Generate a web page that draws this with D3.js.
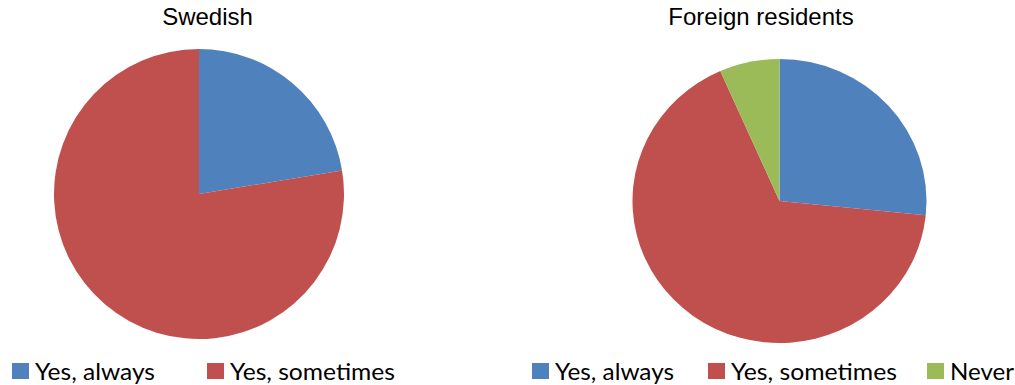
<!DOCTYPE html>
<html>
<head>
<meta charset="utf-8">
<script src="https://cdn.jsdelivr.net/npm/d3@7"></script>
<style>
  html, body { margin: 0; padding: 0; background: #fff; }
  svg { display: block; }
</style>
</head>
<body>
<svg id="chart" width="1015" height="385"></svg>
<script>
// Survey answers, shares in percent
const swedishCategories = ["Yes, always", "Yes, sometimes"];
const swedishValues = [22.4, 77.6];

const foreignCategories = ["Yes, always", "Yes, sometimes", "Never"];
const foreignValues = [26.6, 66.8, 6.6];

const chartTitles = ["Swedish", "Foreign residents"];

const colorScale = d3.scaleOrdinal()
  .domain(["Yes, always", "Yes, sometimes", "Never"])
  .range(["#4F81BD", "#C0504D", "#9BBB59"]);

const svg = d3.select("#chart");

// Layout of the two panels
const panels = [
  {
    title: chartTitles[0], titleX: 207.5,
    categories: swedishCategories, values: swedishValues,
    cx: 199, cy: 194, r: 145, sx: 1,
    legendX: [12, 207], legendW: [120, 165]
  },
  {
    title: chartTitles[1], titleX: 761,
    categories: foreignCategories, values: foreignValues,
    cx: 779.5, cy: 201, r: 142, sx: 147 / 142,
    legendX: [532, 708, 927], legendW: [119, 166, 64]
  }
];

const pie = d3.pie().sort(null).value(d => d.value);

panels.forEach(p => {
  const data = p.categories.map((c, i) => ({ category: c, value: p.values[i] }));
  const arc = d3.arc().innerRadius(0).outerRadius(p.r);

  // Title
  svg.append("text")
    .attr("x", p.titleX)
    .attr("y", 25)
    .attr("text-anchor", "middle")
    .attr("font-family", "'Liberation Sans', Arial, sans-serif")
    .attr("font-size", 24)
    .attr("fill", "#000")
    .text(p.title);

  // Pie
  const g = svg.append("g")
    .attr("transform", `translate(${p.cx},${p.cy}) scale(${p.sx},1)`);
  g.selectAll("path")
    .data(pie(data))
    .join("path")
    .attr("d", arc)
    .attr("fill", d => colorScale(d.data.category));

  // Legend
  const leg = svg.append("g");
  p.categories.forEach((c, i) => {
    const x = p.legendX[i];
    leg.append("rect")
      .attr("x", x)
      .attr("y", 363)
      .attr("width", 17)
      .attr("height", 16)
      .attr("fill", colorScale(c));
    leg.append("text")
      .attr("x", x + 23)
      .attr("y", 379.5)
      .attr("font-family", "Lato, 'Open Sans', sans-serif")
      .attr("font-size", 23)
      .attr("fill", "#000")
      .attr("textLength", p.legendW[i])
      .attr("lengthAdjust", "spacingAndGlyphs")
      .text(c);
  });
});
</script>
</body>
</html>
